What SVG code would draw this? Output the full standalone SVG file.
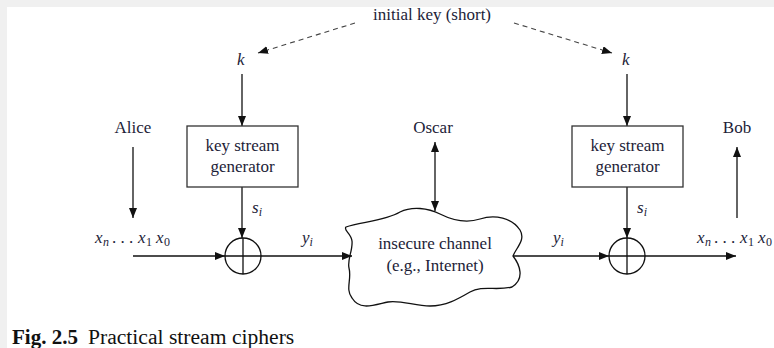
<svg xmlns="http://www.w3.org/2000/svg" width="774" height="348" viewBox="0 0 774 348">
<style>
text{font-family:"Liberation Serif","Times New Roman",serif;fill:#1d1d38;font-size:17px}
.c{text-anchor:middle}
.it{font-style:italic}
.sub{font-size:12px}
.ln{stroke:#111;stroke-width:1.3;fill:none}
.dash{stroke:#444;stroke-width:1.1;fill:none;stroke-dasharray:5 4}
.box{fill:#fff;stroke:#333;stroke-width:1.3}
.cap{font-size:21px;fill:#111}
</style>
<defs>
<marker id="ah" viewBox="0 0 10 8" refX="10" refY="4" markerWidth="10" markerHeight="8" markerUnits="userSpaceOnUse" orient="auto">
<path d="M0,0 L10,4 L0,8 Z" fill="#111"/>
</marker>
<marker id="ahs" viewBox="0 0 10 8" refX="10" refY="4" markerWidth="10" markerHeight="8" markerUnits="userSpaceOnUse" orient="auto-start-reverse">
<path d="M0,0 L10,4 L0,8 Z" fill="#111"/>
</marker>
</defs>
<rect x="0" y="0" width="774" height="348" fill="#fff"/>
<rect x="0" y="0" width="774" height="7" fill="#f0f0f0"/>
<rect x="0" y="0" width="7" height="348" fill="#f0f0f0"/>

<g id="connectors">
<path class="dash" d="M355,23 L258,53" marker-end="url(#ah)"/>
<path class="dash" d="M514,23 L612,53" marker-end="url(#ah)"/>
<path class="ln" d="M242,74 L242,126" marker-end="url(#ah)"/>
<path class="ln" d="M627,74 L627,126" marker-end="url(#ah)"/>
<path class="ln" d="M133,147 L133,218" marker-end="url(#ah)"/>
<path class="ln" d="M737,218 L737,147" marker-end="url(#ah)"/>
<path class="ln" d="M435,142 L435,211" marker-start="url(#ahs)" marker-end="url(#ah)"/>
<path class="ln" d="M242,187 L242,238" marker-end="url(#ah)"/>
<path class="ln" d="M627,187 L627,238" marker-end="url(#ah)"/>
<path class="ln" d="M133,256 L225,256" marker-end="url(#ah)"/>
<path class="ln" d="M261,256 L352,256" marker-end="url(#ah)"/>
<path class="ln" d="M513,256 L609,256" marker-end="url(#ah)"/>
<path class="ln" d="M645,256 L736,256" marker-end="url(#ah)"/>
</g>

<g id="initial-key"><text class="c" x="432" y="20">initial key (short)</text></g>
<g id="k-left"><text class="it" x="237" y="65">k</text></g>
<g id="k-right"><text class="it" x="622" y="65">k</text></g>

<g id="alice"><text class="c" x="133" y="133">Alice</text></g>
<g id="oscar"><text class="c" x="433" y="133">Oscar</text></g>
<g id="bob"><text class="c" x="737" y="133">Bob</text></g>

<g id="ksg-left">
<rect class="box" x="187" y="126" width="111" height="61"/>
<text class="c" x="242.5" y="151">key stream</text>
<text class="c" x="242.5" y="172">generator</text>
</g>
<g id="ksg-right">
<rect class="box" x="572" y="126" width="111" height="61"/>
<text class="c" x="627.5" y="151">key stream</text>
<text class="c" x="627.5" y="172">generator</text>
</g>

<g id="xor-left">
<circle class="ln" cx="243" cy="256" r="18"/>
<path class="ln" d="M225,256 H261 M243,238 V274"/>
</g>
<g id="xor-right">
<circle class="ln" cx="627" cy="256" r="18"/>
<path class="ln" d="M609,256 H645 M627,238 V274"/>
</g>

<g id="channel">
<path class="ln" d="M346,227 C360,222 385,221 400,212 C412,206 428,208 440,214 C452,220 465,224 480,219 C495,214 512,218 520,230 C526,240 516,248 513,256 C520,265 525,279 512,287 C497,291 482,285 470,292 C458,299 446,306 430,306 C415,306 401,300 388,302 C374,305 360,311 352,298 C345,289 352,279 349,268 C347,260 353,250 352,241 C351,233 343,230 346,227 Z"/>
<text class="c" x="435" y="249">insecure channel</text>
<text class="c" x="435" y="271">(e.g., Internet)</text>
</g>

<g id="labels">
<text x="252" y="213"><tspan class="it">s</tspan><tspan class="it sub" dy="3">i</tspan></text>
<text x="637" y="213"><tspan class="it">s</tspan><tspan class="it sub" dy="3">i</tspan></text>
<text x="302" y="243"><tspan class="it">y</tspan><tspan class="it sub" dy="3">i</tspan></text>
<text x="553" y="243"><tspan class="it">y</tspan><tspan class="it sub" dy="3">i</tspan></text>
<text y="243"><tspan class="it" x="95">x</tspan><tspan class="it sub" x="103" dy="3">n</tspan><tspan x="112" dy="-3">. . .</tspan><tspan class="it" x="138">x</tspan><tspan class="sub" x="146" dy="3">1</tspan><tspan class="it" x="156" dy="-3">x</tspan><tspan class="sub" x="164" dy="3">0</tspan></text>
<text y="243"><tspan class="it" x="697">x</tspan><tspan class="it sub" x="705" dy="3">n</tspan><tspan x="714" dy="-3">. . .</tspan><tspan class="it" x="740">x</tspan><tspan class="sub" x="748" dy="3">1</tspan><tspan class="it" x="758" dy="-3">x</tspan><tspan class="sub" x="766" dy="3">0</tspan></text>
</g>

<g id="caption">
<text class="cap" x="12" y="344"><tspan font-weight="bold">Fig. 2.5</tspan><tspan x="88" font-size="21.6">Practical stream ciphers</tspan></text>
</g>
</svg>
